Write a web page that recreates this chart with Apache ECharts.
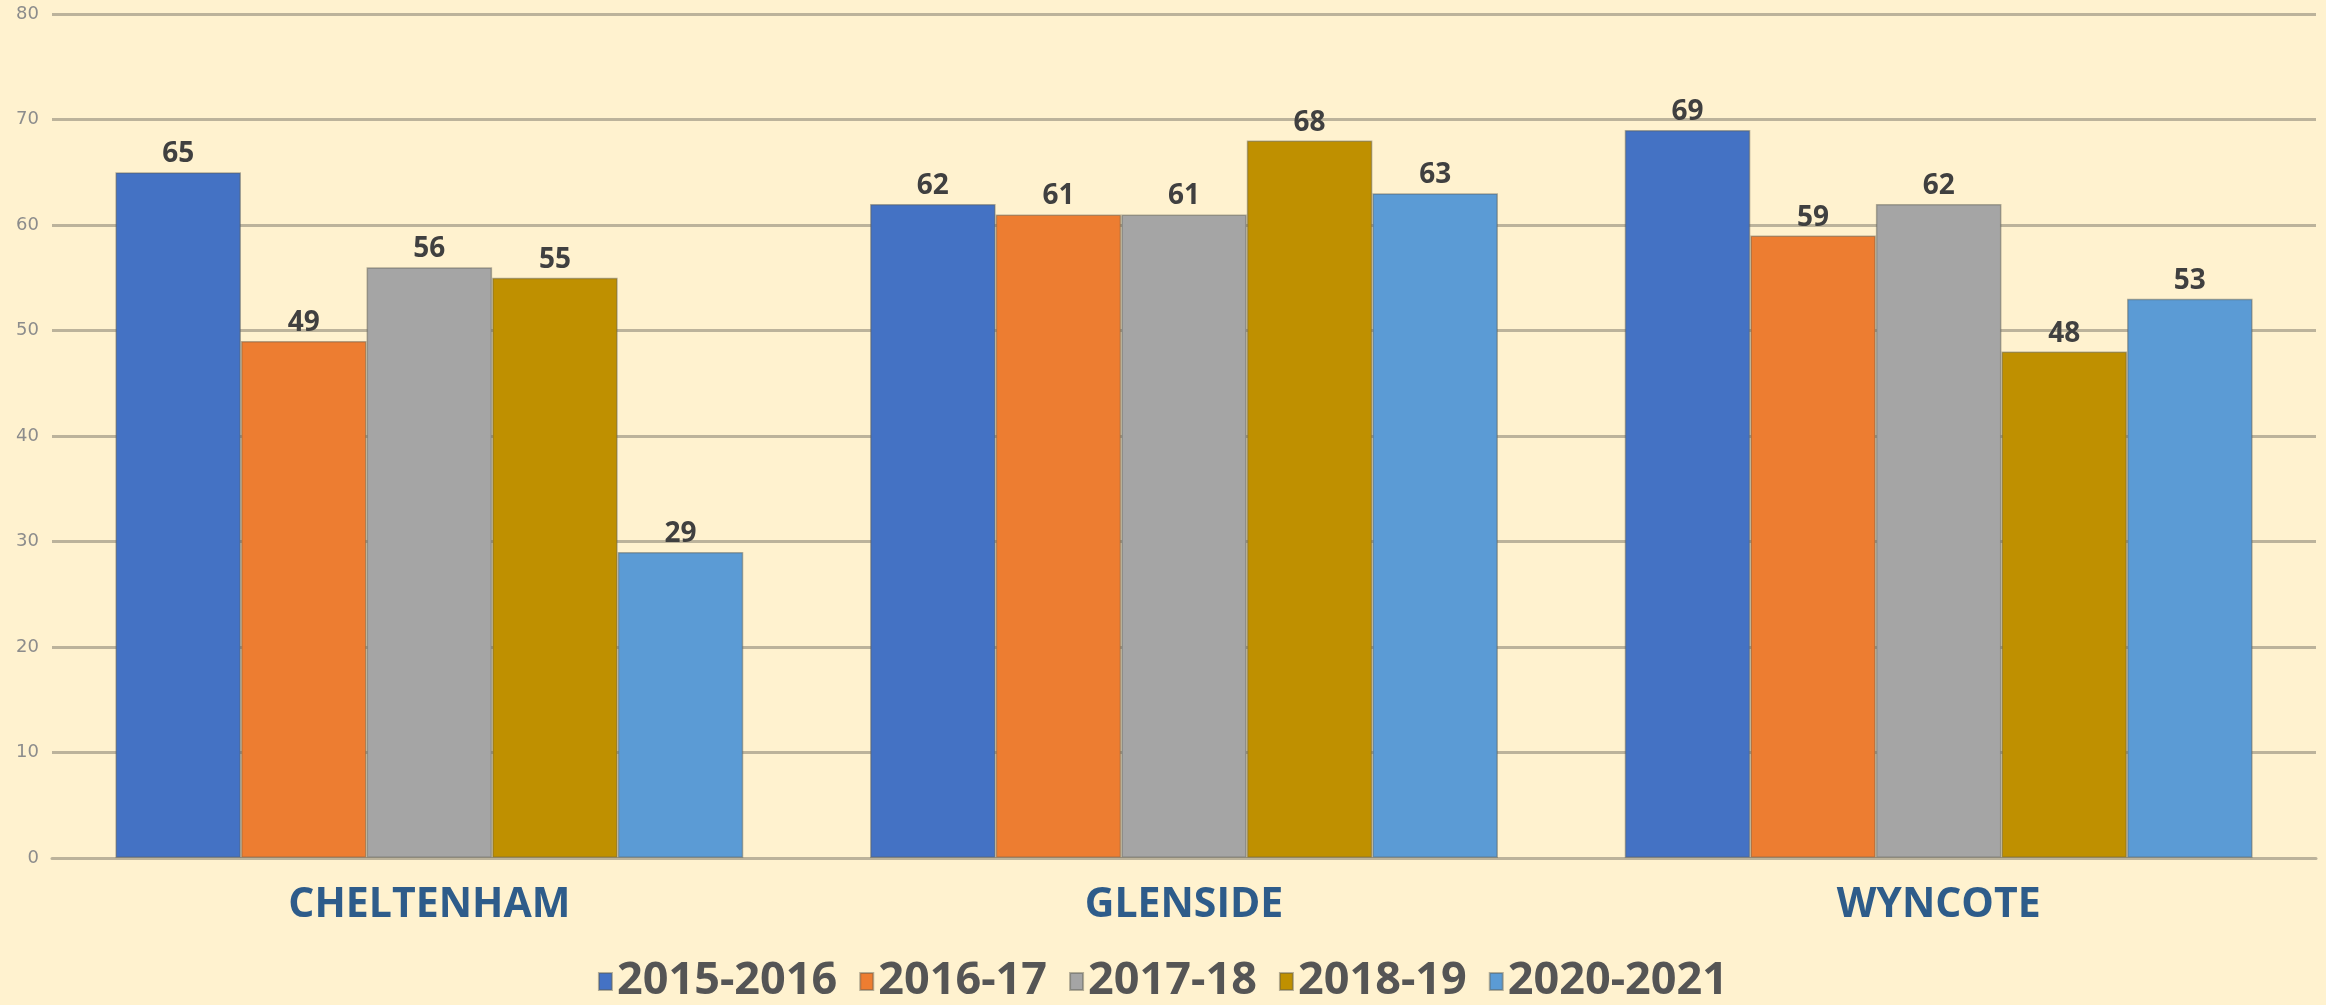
<!DOCTYPE html>
<html>
<head>
<meta charset="utf-8">
<script src="https://cdn.jsdelivr.net/npm/echarts@6/dist/echarts.min.js"></script>
<style>
  html, body { margin: 0; padding: 0; background: #fff2cf; }
  #main { width: 2326px; height: 1005px; }
</style>
</head>
<body>
<div id="main"></div>
<script>
var schools = ['CHELTENHAM', 'GLENSIDE', 'WYNCOTE'];
var years = ['2015-2016', '2016-17', '2017-18', '2018-19', '2020-2021'];
var y2015 = [65, 62, 69];
var y2016 = [49, 61, 59];
var y2017 = [56, 61, 62];
var y2018 = [55, 68, 48];
var y2020 = [29, 63, 53];
var colors = ['#4472c4', '#ed7d31', '#a5a5a5', '#bf9000', '#5b9bd5'];

var myChart = echarts.init(document.getElementById('main'));

function makeSeries(name, data) {
    return {
        name: name,
        type: 'bar',
        barGap: '0%',
        barCategoryGap: '16.8%',
        itemStyle: {
            borderColor: 'rgba(90,90,80,0.45)',
            borderWidth: 1.5
        },
        label: {
            show: true,
            position: 'top',
            distance: 4,
            color: '#404040',
            fontSize: 28,
            fontWeight: 'bold',
            fontFamily: 'Open Sans'
        },
        data: data
    };
}

option = {
    backgroundColor: '#fff2cf',
    color: colors,
    animation: false,
    legend: {
        data: years,
        top: 954,
        left: 'center',
        itemWidth: 13,
        itemHeight: 17,
        itemGap: 22,
        icon: 'rect',
        textStyle: {
            color: '#555555',
            fontSize: 45,
            fontWeight: 'bold',
            fontFamily: 'Noto Sans'
        }
    },
    grid: {
        left: 52,
        right: 10,
        top: 14,
        bottom: 147
    },
    xAxis: {
        type: 'category',
        data: schools,
        axisTick: { show: false },
        axisLine: { lineStyle: { color: '#bcb39b', width: 3 } },
        axisLabel: {
            margin: 27,
            color: '#2e5c8a',
            fontSize: 41,
            fontWeight: 'bold',
            fontFamily: 'Open Sans'
        }
    },
    yAxis: {
        type: 'value',
        min: 0,
        max: 80,
        interval: 10,
        axisLabel: {
            margin: 13,
            color: '#8c8c8c',
            fontSize: 18,
            fontFamily: 'DejaVu Sans'
        },
        splitLine: { lineStyle: { color: '#bcb39b', width: 3 } }
    },
    series: [
        makeSeries(years[0], y2015),
        makeSeries(years[1], y2016),
        makeSeries(years[2], y2017),
        makeSeries(years[3], y2018),
        makeSeries(years[4], y2020)
    ]
};
myChart.setOption(option);
</script>
</body>
</html>
